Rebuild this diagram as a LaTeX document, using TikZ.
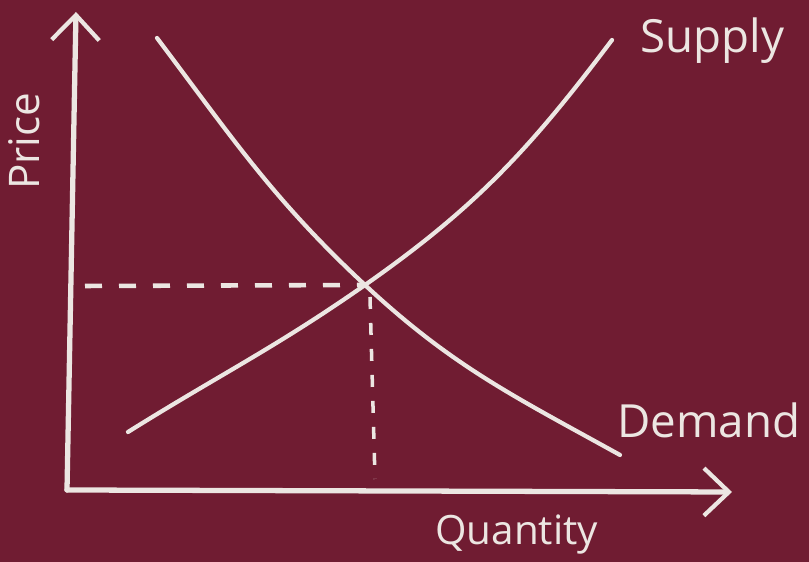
\documentclass[tikz,border=0pt]{standalone}
\usepackage{fontspec}
\setmainfont{Open Sans}
\usetikzlibrary{arrows.meta, positioning}
\definecolor{boardcol}{RGB}{112, 28, 50}
\definecolor{chalkcol}{RGB}{236, 230, 226}

\begin{document}
\begin{tikzpicture}[
    chalk/.style = {draw=chalkcol, line width=2.4pt, line cap=round},
    axisline/.style = {chalk, line width=3pt, -{Straight Barb[length=0.5cm, width=0.95cm, line width=2.4pt]}},
    guide/.style = {chalk, line width=2.6pt, line cap=butt, dash pattern=on 0.34cm off 0.34cm},
    vguide/.style = {chalk, line width=2pt, line cap=butt, dash pattern=on 0.24cm off 0.28cm},
    lbl/.style = {text=chalkcol, inner sep=0pt}
]

    % Board
    \fill[boardcol] (0,0) rectangle (16.18,11.24);
    \useasboundingbox (0,0) rectangle (16.18,11.24);

    % Fixed points
    \coordinate (origin) at (1.34,1.44);
    \coordinate (ytip) at (1.52,11.00);
    \coordinate (xtip) at (14.64,1.40);
    \coordinate (eq) at (7.30,5.54);
    \coordinate (dstart) at (3.14,10.48);
    \coordinate (dend) at (12.40,2.14);
    \coordinate (sstart) at (2.56,2.60);
    \coordinate (send) at (12.24,10.44);
    \coordinate (pleft) at (1.70,5.52);
    \coordinate (qfoot) at (7.50,1.66);
    \coordinate (qtop) at (7.40,5.30);

    % Axes
    \draw[axisline] (origin) -- (ytip);
    \draw[axisline] (origin) -- (xtip);

    % Curves
    \draw[chalk] (dstart) to[out=-53, in=137] (eq) to[out=-43, in=151] (dend);
    \draw[chalk] (sstart) to[out=32, in=-145] (eq) to[out=35, in=-127] (send);

    % Equilibrium guides
    \draw[guide] (pleft) -- (eq);
    \draw[vguide] (qtop) -- (qfoot);

    % Labels
    \node[lbl, anchor=base west, font=\fontsize{26}{30}\selectfont] (supply) at (12.80,10.18) {Supply};
    \node[lbl, anchor=base west, font=\fontsize{26}{30}\selectfont] (demand) at (12.34,2.48) {Demand};
    \node[lbl, anchor=base west, font=\fontsize{23}{27}\selectfont] (quantity) at (8.70,0.34) {Quantity};
    \node[lbl, anchor=base west, rotate=90, font=\fontsize{24}{28}\selectfont] (price) at (0.80,7.44) {Price};

\end{tikzpicture}
\end{document}
